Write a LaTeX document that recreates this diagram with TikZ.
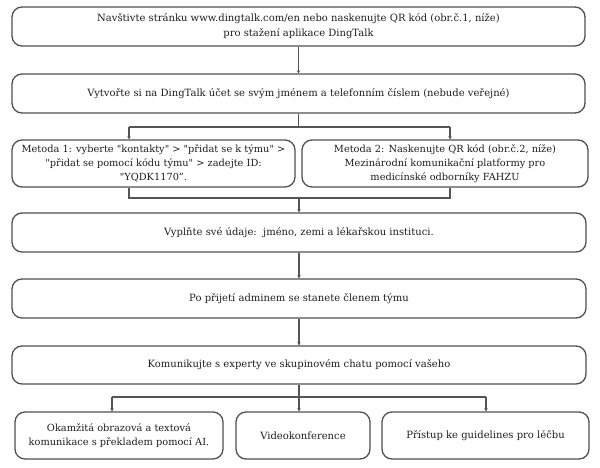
\documentclass[tikz,border=0pt]{standalone}
\usepackage{fontspec}
\setmainfont[Ligatures=TeXOff]{DejaVu Serif}
\usetikzlibrary{arrows.meta}
\definecolor{linec}{HTML}{505050}
\definecolor{conn}{HTML}{555555}
\definecolor{txt}{HTML}{1E1E1E}
\begin{document}
\begin{tikzpicture}[x=1pt,y=-1pt,
  box/.style={draw=linec, line width=1.3pt, rounded corners=10pt, align=center,
    font=\fontsize{10}{15}\selectfont, text=txt, inner sep=0pt},
  tight/.style={font=\fontsize{9.8}{14}\selectfont},
  ln/.style={draw=conn, line width=1.2pt},
  arr/.style={ln, -{Stealth[length=3pt,width=3.5pt]}}]
\useasboundingbox (0,0) rectangle (600,468);
\node[box, minimum width=573pt, minimum height=39pt] (b1) at (298.5,26.5)
  {Navštivte stránku www.dingtalk.com/en nebo naskenujte QR kód (obr.č.1, níže)\\pro stažení aplikace DingTalk};
\node[box, minimum width=573pt, minimum height=39pt] (b2) at (298.5,93.5)
  {Vytvořte si na DingTalk účet se svým jménem a telefonním číslem (nebude veřejné)};
\node[box, tight, minimum width=283pt, minimum height=47pt] (b3) at (153.5,163.5)
  {Metoda 1: vyberte "kontakty" > "přidat se k týmu" >\\"přidat se pomocí kódu týmu" > zadejte ID:\\"YQDK1170”.};
\node[box, tight, minimum width=286pt, minimum height=47pt] (b4) at (445,163.5)
  {Metoda 2: Naskenujte QR kód (obr.č.2, níže)\\Mezinárodní komunikační platformy pro\\medicínské odborníky FAHZU};
\node[box, minimum width=574pt, minimum height=39pt] (b5) at (299,232.5)
  {Vyplňte své údaje:\ \ jméno, zemi a lékařskou instituci.};
\node[box, minimum width=574pt, minimum height=39pt] (b6) at (299,298.5)
  {Po přijetí adminem se stanete členem týmu};
\node[box, minimum width=574pt, minimum height=38pt] (b7) at (299,365)
  {Komunikujte s experty ve skupinovém chatu pomocí vašeho};
\node[box, tight, minimum width=208pt, minimum height=47pt] (b8) at (119,435.5)
  {Okamžitá obrazová a textová\\komunikace s překladem pomocí AI.};
\node[box, minimum width=134pt, minimum height=47pt] (b9) at (303,435.5)
  {Videokonference};
\node[box, minimum width=207pt, minimum height=47pt] (b10) at (485.5,435.5)
  {Přístup ke guidelines pro léčbu};
% connectors
\draw[arr] (b1.south) -- (b2.north);
\coordinate (j3) at (129,127);
\coordinate (j4) at (450,127);
\draw[ln] (b2.south) -- (b2.south |- j3);
\draw[ln] (j3) -- (j4);
\draw[arr] (j3) -- (j3 |- b3.north);
\draw[arr] (j4) -- (j4 |- b4.north);
\coordinate (k3) at (129,198);
\coordinate (k4) at (450,198);
\draw[ln] (k3 |- b3.south) -- (k3) -- (k4) -- (k4 |- b4.south);
\draw[arr] (b5.north |- k3) -- (b5.north);
\draw[arr] (b5.south) -- (b6.north);
\draw[arr] (b6.south) -- (b7.north);
\coordinate (m8) at (112,397);
\coordinate (m10) at (486,397);
\draw[ln] (b7.south) -- (b7.south |- m8);
\draw[ln] (m8) -- (m10);
\draw[arr] (m8) -- (m8 |- b8.north);
\draw[arr] (b7.south |- m8) -- (b7.south |- b9.north);
\draw[arr] (m10) -- (m10 |- b10.north);
\end{tikzpicture}
\end{document}
